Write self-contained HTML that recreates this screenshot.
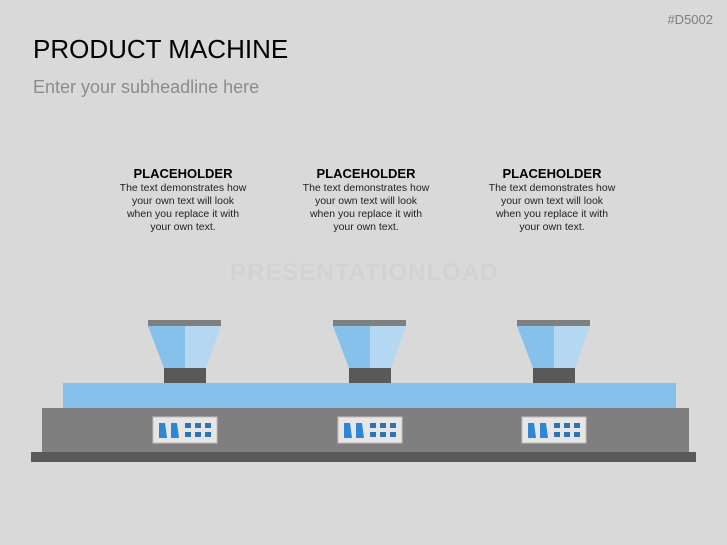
<!DOCTYPE html>
<html><head><style>
body{margin:0;width:727px;height:545px;background:#d9d9d9;font-family:"Liberation Sans",sans-serif;position:relative;overflow:hidden}
.a{position:absolute}
.t{position:absolute;width:128px;text-align:center;color:#222;font-size:10.5px;line-height:13px}
.t b{display:block;font-size:13px;line-height:16px;color:#000;margin-bottom:0px;margin-left:-20px;margin-right:-20px}
</style></head><body>
<div class="a" style="right:14px;top:12px;font-size:13px;color:#7f7f7f">#D5002</div>
<div class="a" style="left:33px;top:34px;font-size:26px;color:#000">PRODUCT MACHINE</div>
<div class="a" style="left:33px;top:77px;font-size:18px;color:#8c8c8c">Enter your subheadline here</div>
<div class="a" style="left:230px;top:259px;font-size:24px;color:#d2d2d2;font-weight:bold;letter-spacing:1px">PRESENTATIONLOAD</div>
<div class="t" style="left:119px;top:166px"><b>PLACEHOLDER</b>The text demonstrates how your own text will look when you replace it with your own text.</div>
<div class="t" style="left:302px;top:166px"><b>PLACEHOLDER</b>The text demonstrates how your own text will look when you replace it with your own text.</div>
<div class="t" style="left:488px;top:166px"><b>PLACEHOLDER</b>The text demonstrates how your own text will look when you replace it with your own text.</div>
<svg class="a" style="left:0;top:0" width="727" height="545">
<rect x="31" y="452" width="665" height="10" fill="#595959"/>
<rect x="42" y="408" width="647" height="44" fill="#7f7f7f"/>
<rect x="63" y="383" width="613" height="25" fill="#85c1ea"/>
<g id="h">
<rect x="148" y="320" width="73" height="6" fill="#7f7f7f"/>
<polygon points="148,326 185,326 185,368 164,368" fill="#85c1ea"/>
<polygon points="185,326 221,326 206,368 185,368" fill="#b4d8f2"/>
<rect x="164" y="368" width="42" height="15" fill="#595959"/>
<rect x="153" y="417" width="64" height="26" fill="#e6e6e6" stroke="#bfbfbf" stroke-width="1"/>
<polygon points="159,423 165,423 167,438 159,438" fill="#2e86d4"/>
<polygon points="171,423 177,423 179,438 171,438" fill="#2e86d4"/>
<rect x="185" y="423" width="6" height="5" fill="#2e75b6"/><rect x="195" y="423" width="6" height="5" fill="#2e75b6"/><rect x="205" y="423" width="6" height="5" fill="#2e75b6"/>
<rect x="185" y="432" width="6" height="5" fill="#2e75b6"/><rect x="195" y="432" width="6" height="5" fill="#2e75b6"/><rect x="205" y="432" width="6" height="5" fill="#2e75b6"/>
</g>
<use href="#h" x="185"/>
<use href="#h" x="369"/>
</svg>
</body></html>
